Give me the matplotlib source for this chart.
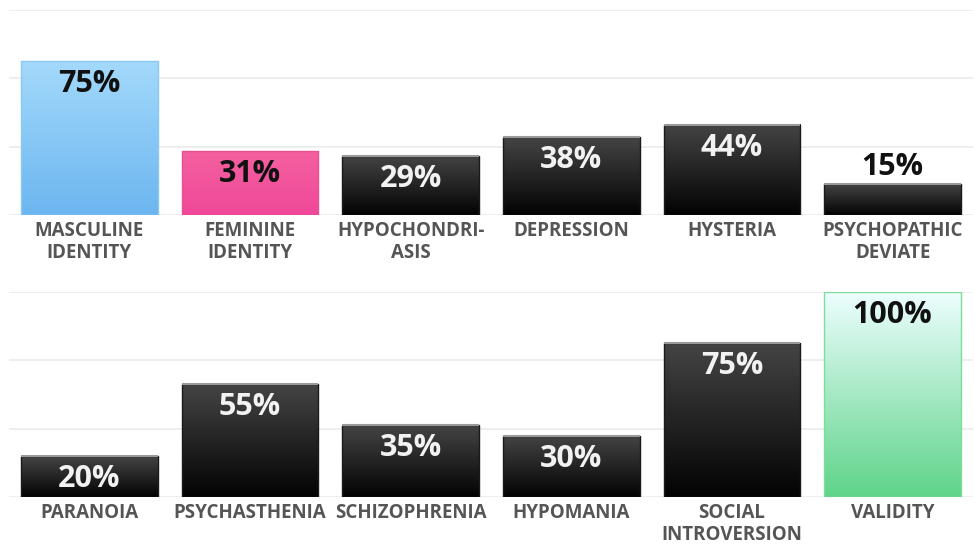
import matplotlib
matplotlib.use("Agg")
import matplotlib.pyplot as plt
import numpy as np
from matplotlib.colors import LinearSegmentedColormap

# Data, one panel per row
top_labels = ["MASCULINE\nIDENTITY", "FEMININE\nIDENTITY", "HYPOCHONDRI-\nASIS",
              "DEPRESSION", "HYSTERIA", "PSYCHOPATHIC\nDEVIATE"]
top_values = [75, 31, 29, 38, 44, 15]
top_styles = ["blue", "pink", "black", "black", "black", "black"]

bottom_labels = ["PARANOIA", "PSYCHASTHENIA", "SCHIZOPHRENIA",
                 "HYPOMANIA", "SOCIAL\nINTROVERSION", "VALIDITY"]
bottom_values = [20, 55, 35, 30, 75, 100]
bottom_styles = ["black", "black", "black", "black", "black", "green"]

# gradient (top colour, bottom colour), edge colour, text colour
STYLES = {
    "blue": (("#a3d9fb", "#6cb6f0"), "#8cc8f4", "#111111"),
    "pink": (("#f4609f", "#f0489a"), "#e8508f", "#111111"),
    "black": (("#444444", "#030303"), "#1a1a1a", "#f2f2f2"),
    "green": (("#ecfefe", "#5fd48a"), "#7edc9c", "#111111"),
}

FONT = "Open Sans"
BAR_W = 0.85


def draw_panel(ax, labels, values, styles):
    x = np.arange(len(values))
    ax.set_xlim(-0.5, len(values) - 0.5)
    ax.set_ylim(0, 100)
    for yy in [0, 100 / 3, 200 / 3, 100]:
        ax.axhline(yy, color="#ebebeb", lw=1.2, zorder=0)

    for xi, v, st in zip(x, values, styles):
        (c_top, c_bot), edge, tcol = STYLES[st]
        cmap = LinearSegmentedColormap.from_list(st, [c_bot, c_top])
        grad = np.linspace(0, 1, 100).reshape(-1, 1)
        x0, x1 = xi - BAR_W / 2, xi + BAR_W / 2
        ax.imshow(grad, cmap=cmap, origin="lower", aspect="auto",
                  extent=(x0, x1, 0, v), zorder=2, interpolation="bilinear")
        ax.bar(xi, v, width=BAR_W, facecolor="none", edgecolor=edge,
               lw=1.0, zorder=3)
        if st == "black":
            ax.plot([x0, x1], [v, v], color="#9a9a9a", lw=1.5, zorder=4,
                    solid_capstyle="butt")

        if v >= 18:
            ax.annotate(f"{v}%", (xi, v), xytext=(0, -23),
                        textcoords="offset pixels", ha="center", va="center",
                        fontsize=22, fontweight="bold", family=FONT,
                        color=tcol, zorder=5)
        else:
            ax.annotate(f"{v}%", (xi, v), xytext=(0, 17),
                        textcoords="offset pixels", ha="center", va="center",
                        fontsize=22, fontweight="bold", family=FONT,
                        color="#111111", zorder=5)

    ax.set_xticks(x)
    ax.set_xticklabels(labels, fontsize=13.5, fontweight="bold", family=FONT,
                       color="#555555", linespacing=1.15)
    ax.tick_params(axis="x", length=0, pad=4)
    ax.set_yticks([])
    for s in ax.spines.values():
        s.set_visible(False)


fig = plt.figure(figsize=(9.75, 5.45), dpi=100)
ax_top = fig.add_axes([0.0092, 0.6055, 0.9887, 0.376])
ax_bot = fig.add_axes([0.0092, 0.088, 0.9887, 0.376])

draw_panel(ax_top, top_labels, top_values, top_styles)
draw_panel(ax_bot, bottom_labels, bottom_values, bottom_styles)

fig.savefig("out.png", dpi=100)
